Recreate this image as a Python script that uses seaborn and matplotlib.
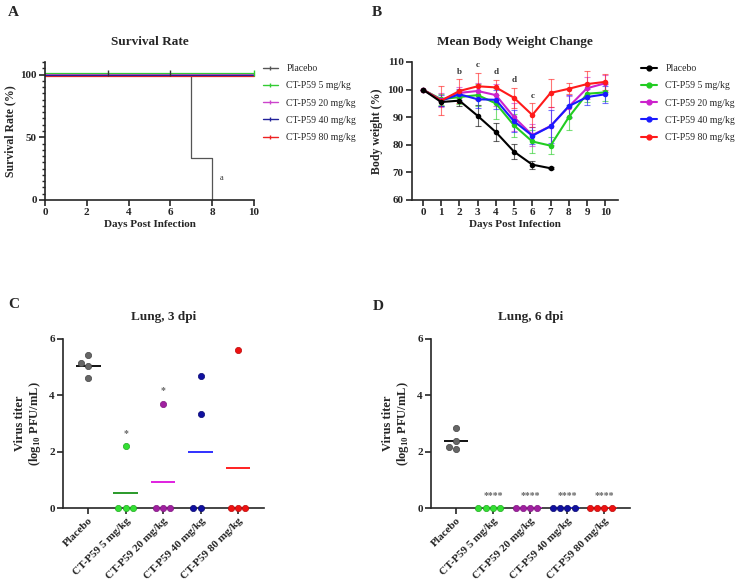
import numpy as np
import pandas as pd
import matplotlib
matplotlib.use("Agg")
import matplotlib.pyplot as plt
import matplotlib.transforms as mtransforms
from matplotlib.lines import Line2D
from matplotlib.ticker import MultipleLocator
import seaborn as sns

sns.set_theme(style="ticks")
plt.rcParams["font.family"] = ["Liberation Serif", "DejaVu Serif"]
plt.rcParams["mathtext.fontset"] = "custom"
plt.rcParams["mathtext.rm"] = "Liberation Serif"
plt.rcParams["mathtext.bf"] = "Liberation Serif:bold"
plt.rcParams["axes.linewidth"] = 1.2

# ---------------- data ----------------
groups = ["Placebo", "CT-P59 5 mg/kg", "CT-P59 20 mg/kg", "CT-P59 40 mg/kg", "CT-P59 80 mg/kg"]

# A: survival
surv_days_placebo = [0, 7, 8]
surv_pct_placebo = [100, 33.3, 0]
surv_days_treated = [0, 10]
surv_pct_treated = [100, 100]
censor_days_placebo = [3, 6]
censor_days_treated = [10]

# B: body weight (mean, SD)
days = [0, 1, 2, 3, 4, 5, 6, 7, 8, 9, 10]
bw_placebo = [100, 95.5, 96.0, 90.5, 84.6, 77.5, 72.8, 71.5]
bw_placebo_sd = [0, 1.5, 2.0, 3.8, 3.3, 2.8, 1.5, 0.4]
bw_5 = [100, 96.5, 97.3, 98.0, 95.0, 87.0, 81.2, 79.7, 90.0, 98.5, 99.0]
bw_5_sd = [0, 2.0, 2.5, 4.0, 5.5, 4.0, 4.0, 3.0, 4.5, 3.0, 3.0]
bw_20 = [100, 96.2, 98.8, 99.5, 98.0, 90.0, 83.5, 86.8, 93.8, 100.5, 102.3]
bw_20_sd = [0, 2.5, 2.0, 3.0, 4.0, 5.0, 4.0, 7.0, 4.0, 4.0, 3.0]
bw_40 = [100, 96.0, 98.3, 96.5, 96.3, 88.5, 83.3, 86.7, 94.0, 97.3, 98.3]
bw_40_sd = [0, 2.0, 2.0, 3.0, 3.5, 4.0, 3.0, 6.0, 4.0, 3.0, 3.0]
bw_80 = [100, 96.0, 99.5, 101.2, 100.8, 97.0, 90.8, 98.8, 100.3, 102.0, 102.8]
bw_80_sd = [0, 5.2, 4.2, 4.8, 2.8, 3.7, 4.3, 5.0, 2.0, 4.7, 3.0]
bw_sig_days = [2, 3, 4, 5, 6]
bw_sig_letters = ["b", "c", "d", "d", "c"]

# C: lung titer 3 dpi
titer3_placebo = [5.42, 5.14, 5.04, 4.60]
titer3_5 = [2.20, 0, 0, 0]
titer3_20 = [3.71, 0, 0, 0]
titer3_40 = [4.70, 3.32, 0, 0]
titer3_80 = [5.62, 0, 0, 0]
sig3 = ["", "*", "*", "", ""]

# D: lung titer 6 dpi
titer6_placebo = [2.83, 2.39, 2.08, 2.15]
titer6_5 = [0, 0, 0, 0]
titer6_20 = [0, 0, 0, 0]
titer6_40 = [0, 0, 0, 0]
titer6_80 = [0, 0, 0, 0]
sig6 = ["", "****", "****", "****", "****"]

# ---------------- styles ----------------
surv_colors = ["#555555", "#33cc33", "#cc44cc", "#22229a", "#ee2222"]
bw_colors = ["#000000", "#22cc22", "#cc22cc", "#1a1aff", "#ff1a1a"]
pt_colors = ["#666666", "#33e033", "#a020a0", "#1010a0", "#ee1111"]
pt_edges = ["#444444", "#22aa22", "#801880", "#0a0a70", "#bb0a0a"]
mean_colors = ["#111111", "#2a9a2a", "#e020e0", "#3030ff", "#ff2020"]

fig = plt.figure(figsize=(7.43, 5.88), dpi=100)
W, H = 743, 588


def ax_at(l, t, r, b):
    return fig.add_axes([l / W, 1 - b / H, (r - l) / W, (b - t) / H])


bold = dict(fontweight="bold")


def style_axes(ax, fs=8):
    sns.despine(ax=ax)
    ax.tick_params(direction="out", length=4, width=1.2, labelsize=fs, pad=2)
    for lab in ax.get_xticklabels() + ax.get_yticklabels():
        lab.set_fontweight("bold")


# ---------------- A ----------------
axA = ax_at(45, 62, 254, 200)
rows = []
for g in groups:
    if g == "Placebo":
        xs, ys = surv_days_placebo, surv_pct_placebo
    else:
        xs, ys = surv_days_treated, surv_pct_treated
    for x, y in zip(xs, ys):
        rows.append(dict(group=g, day=x, pct=y))
surv_df = pd.DataFrame(rows)
offsets = [0, 1.4, 0.3, 0.0, -1.4]  # visual pixel offsets so overlapping lines stay visible
draw_order = [0, 4, 2, 3, 1]
for i in draw_order:
    g = groups[i]
    sub = surv_df[surv_df.group == g]
    trans = mtransforms.offset_copy(axA.transData, fig=fig, x=0, y=offsets[i], units="dots")
    sns.lineplot(data=sub, x="day", y="pct", ax=axA, color=surv_colors[i], lw=0.9,
                 drawstyle="steps-post", estimator=None, transform=trans, clip_on=False)
cens_df = pd.DataFrame(
    [dict(group="Placebo", day=d, pct=100) for d in censor_days_placebo]
    + [dict(group=groups[1], day=d, pct=100) for d in censor_days_treated]
)
trans_c = mtransforms.offset_copy(axA.transData, fig=fig, x=0, y=1.4, units="dots")
axA.scatter(cens_df.day, cens_df.pct, marker="|", s=22, linewidths=1.0,
            c=["#333333" if g == "Placebo" else surv_colors[1] for g in cens_df.group],
            transform=trans_c, clip_on=False, zorder=5)
axA.set_xlim(0, 10)
axA.set_ylim(0, 110)
axA.set_xticks([0, 2, 4, 6, 8, 10])
axA.set_yticks([0, 50, 100])
axA.yaxis.set_minor_locator(MultipleLocator(5))
axA.tick_params(axis="y", which="minor", length=2.5, width=1.0)
axA.text(8.35, 16, "a", fontsize=6, color="#333333")
axA.set_title("Survival Rate", fontsize=9.5, pad=12, **bold)
axA.set_xlabel("Days Post Infection", fontsize=8, labelpad=2, **bold)
axA.set_ylabel("Survival Rate (%)", fontsize=8.5, labelpad=3, **bold)
style_axes(axA)
handlesA = [Line2D([0], [0], color=c, lw=1.0, marker="|", markersize=3.5, markeredgewidth=1.0)
            for c in surv_colors]
fig.legend(handlesA, groups, loc="upper left", bbox_to_anchor=(263 / W, 1 - 64 / H),
           frameon=False, fontsize=7, handlelength=1.5, handletextpad=0.9,
           labelspacing=0.85, borderpad=0, borderaxespad=0)

# ---------------- B ----------------
axB = ax_at(412, 62, 618, 200)
bw_means = [bw_placebo, bw_5, bw_20, bw_40, bw_80]
bw_sds = [bw_placebo_sd, bw_5_sd, bw_20_sd, bw_40_sd, bw_80_sd]
rows = []
for g, m, s in zip(groups, bw_means, bw_sds):
    for d, mv, sv in zip(days, m, s):
        rows.append(dict(group=g, day=d, bw=mv, sd=sv))
bw_df = pd.DataFrame(rows)
for i, g in enumerate(groups):
    sub = bw_df[bw_df.group == g]
    axB.errorbar(sub.day, sub.bw, yerr=sub.sd, fmt="none", ecolor=bw_colors[i],
                 elinewidth=0.8, capsize=2.0, capthick=0.8, alpha=0.6, zorder=2)
for i in [1, 2, 3, 4, 0]:
    g = groups[i]
    sub = bw_df[bw_df.group == g]
    sns.lineplot(data=sub, x="day", y="bw", ax=axB, color=bw_colors[i], lw=1.5,
                 marker="o", markersize=4, markeredgewidth=0, estimator=None, zorder=3)
upper = bw_df.assign(up=bw_df.bw + bw_df.sd).groupby("day").up.max()
for d, letter in zip(bw_sig_days, bw_sig_letters):
    axB.text(d, upper[d] + 1.3, letter, ha="center", va="bottom", fontsize=6.5,
             color="#333333", **bold)
axB.set_xlim(-0.6, 10.7)
axB.set_ylim(60, 110)
axB.set_xticks(days)
axB.set_yticks([60, 70, 80, 90, 100, 110])
axB.set_title("Mean Body Weight Change", fontsize=9.5, pad=12, **bold)
axB.set_xlabel("Days Post Infection", fontsize=8, labelpad=2, **bold)
axB.set_ylabel("Body weight (%)", fontsize=8.5, labelpad=3, **bold)
style_axes(axB)
handlesB = [Line2D([0], [0], color=c, lw=1.5, marker="o", markersize=3.5) for c in bw_colors]
fig.legend(handlesB, groups, loc="upper left", bbox_to_anchor=(641 / W, 1 - 64 / H),
           frameon=False, fontsize=7, handlelength=1.6, handletextpad=0.9,
           labelspacing=0.85, borderpad=0, borderaxespad=0)


# ---------------- C & D ----------------
def titer_panel(ax, vals, sig, title):
    rows = []
    for g, v in zip(groups, vals):
        for x in v:
            rows.append(dict(group=g, titer=x))
    df = pd.DataFrame(rows)
    for i, g in enumerate(groups):
        sub = df[df.group == g].copy()
        sns.swarmplot(data=sub, x="group", y="titer", order=groups, ax=ax,
                      color=pt_colors[i], edgecolor=pt_edges[i], linewidth=0.5,
                      size=4.5, clip_on=False, zorder=4)
    means = df.groupby("group", sort=False).titer.mean()
    for i, g in enumerate(groups):
        ax.hlines(means[g], i - 0.33, i + 0.33, color=mean_colors[i], lw=1.4, zorder=3)
        if sig[i]:
            ax.text(i, max(df[df.group == g].titer) + 0.3, sig[i], ha="center",
                    va="bottom", fontsize=7, color="#666666", **bold)
    ax.set_xlim(-0.67, 4.69)
    ax.set_ylim(0, 6)
    ax.set_yticks([0, 2, 4, 6])
    ax.set_xlabel("")
    ax.set_ylabel("Virus titer\n" + r"(log$_{\mathbf{10}}$ PFU/mL)", fontsize=9,
                  labelpad=4, linespacing=1.1, **bold)
    ax.set_title(title, fontsize=9.5, pad=14, **bold)
    style_axes(ax, fs=8)
    ax.set_xticks(range(len(groups)))
    ax.set_xticklabels(groups, rotation=45, ha="right", rotation_mode="anchor",
                       fontsize=8, fontweight="bold")


axC = ax_at(63, 339, 264, 508)
titer_panel(axC, [titer3_placebo, titer3_5, titer3_20, titer3_40, titer3_80], sig3,
            "Lung, 3 dpi")
axD = ax_at(431, 339, 630, 508)
titer_panel(axD, [titer6_placebo, titer6_5, titer6_20, titer6_40, titer6_80], sig6,
            "Lung, 6 dpi")

# panel letters
for lab, x, y in [("A", 8, 12), ("B", 372, 12), ("C", 8, 304), ("D", 373, 306)]:
    fig.text(x / W, 1 - y / H, lab, fontsize=11, fontweight="bold", ha="left", va="center")

fig.savefig("out.png", dpi=100)
